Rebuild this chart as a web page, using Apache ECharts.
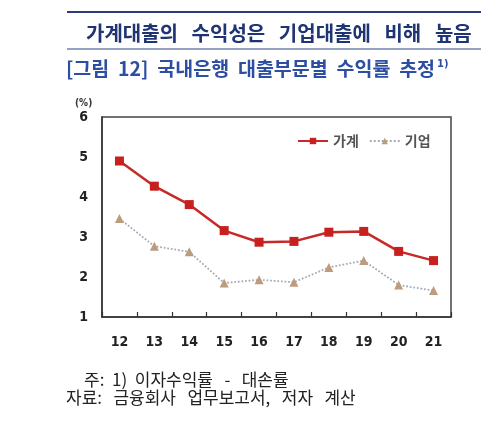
<!DOCTYPE html>
<html><head><meta charset="utf-8">
<script src="https://cdn.jsdelivr.net/npm/echarts@6/dist/echarts.min.js"></script>
<style>html,body{margin:0;padding:0;background:#fff}#c{width:500px;height:426px}</style>
</head><body><div id="c"></div>
<script>
var years = ['12','13','14','15','16','17','18','19','20','21'];
var household = [4.90, 4.27, 3.81, 3.16, 2.87, 2.89, 3.12, 3.14, 2.64, 2.41];
var corporate = [3.46, 2.77, 2.63, 1.85, 1.93, 1.87, 2.24, 2.41, 1.80, 1.66];
var yTicks = [1, 2, 3, 4, 5, 6];
var headline = '가계대출의   수익성은   기업대출에   비해   높음';
var figTitle = '[그림  12]  국내은행  대출부문별  수익률  추정';
var note1 = '주:  1)  이자수익률   -   대손률';
var note2 = '자료:   금융회사   업무보고서,   저자   계산';

var chart = echarts.init(document.getElementById('c'));
var KR = '"Noto Sans CJK KR", "Noto Sans", sans-serif';
var NUM = '"Liberation Sans Narrow", "DejaVu Sans Condensed", "Liberation Sans", sans-serif';
chart.setOption({
  animation: false,
  backgroundColor: '#fff',
  title: [
    {text: headline, left: 81, top: 18, textStyle: {fontFamily: KR, fontSize: 20, fontWeight: 'bold', color: '#1f3473'}},
    {text: '{a|' + figTitle + '}{s|1)}', left: 61, top: 54,
     textStyle: {rich: {
       a: {fontFamily: KR, fontSize: 19.5, fontWeight: 'bold', color: '#2c4ea3'},
       s: {fontFamily: NUM, fontSize: 11, fontWeight: 'bold', color: '#2c4ea3', verticalAlign: 'top', padding: [0,0,8,2]}
     }}}
  ],
  graphic: [
    {type: 'line', shape: {x1: 67, y1: 12, x2: 481, y2: 12}, style: {stroke: '#2a3d78', lineWidth: 2}},
    {type: 'line', shape: {x1: 67, y1: 49, x2: 481, y2: 49}, style: {stroke: '#7283ad', lineWidth: 1.5}},
    {type: 'text', left: 75, top: 98, style: {text: '(%)', font: 'bold 10px ' + NUM, fill: '#333'}},
    {type: 'text', left: 84, top: 371, style: {text: note1, font: '17px ' + KR, fill: '#222'}},
    {type: 'text', left: 66, top: 389, style: {text: note2, font: '17px ' + KR, fill: '#222'}}
  ],
  legend: {
    left: 292, top: 129, itemWidth: 30, itemHeight: 8, itemGap: 10,
    textStyle: {fontFamily: KR, fontSize: 14, color: '#555', fontWeight: 'bold'},
    data: ['가계', '기업']
  },
  grid: {left: 102, right: 49, top: 117, bottom: 109, show: true, borderColor: '#444', borderWidth: 1.5},
  xAxis: {
    type: 'category', data: years, boundaryGap: true,
    axisLine: {show: true, lineStyle: {color: '#333', width: 1.5}},
    axisTick: {show: true, inside: true, length: 5, lineStyle: {color: '#333', width: 1.2}},
    axisLabel: {fontFamily: NUM, fontSize: 14, fontWeight: 'bold', color: '#222', margin: 18}
  },
  yAxis: {
    type: 'value', min: yTicks[0], max: yTicks[yTicks.length - 1], interval: 1,
    splitLine: {show: false},
    axisLine: {show: true, lineStyle: {color: '#333', width: 1.5}},
    axisTick: {show: false},
    axisLabel: {fontFamily: NUM, fontSize: 14, fontWeight: 'bold', color: '#222', margin: 14}
  },
  series: [
    {name: '가계', type: 'line', data: household, symbol: 'rect', symbolSize: 9,
     lineStyle: {color: '#c62a28', width: 2.5}, itemStyle: {color: '#c81f1f'}},
    {name: '기업', type: 'line', data: corporate, symbol: 'triangle', symbolSize: 9,
     lineStyle: {color: '#a7acb6', width: 1.8, type: 'dotted'}, itemStyle: {color: '#bc9c7c'}}
  ]
});
</script></body></html>
